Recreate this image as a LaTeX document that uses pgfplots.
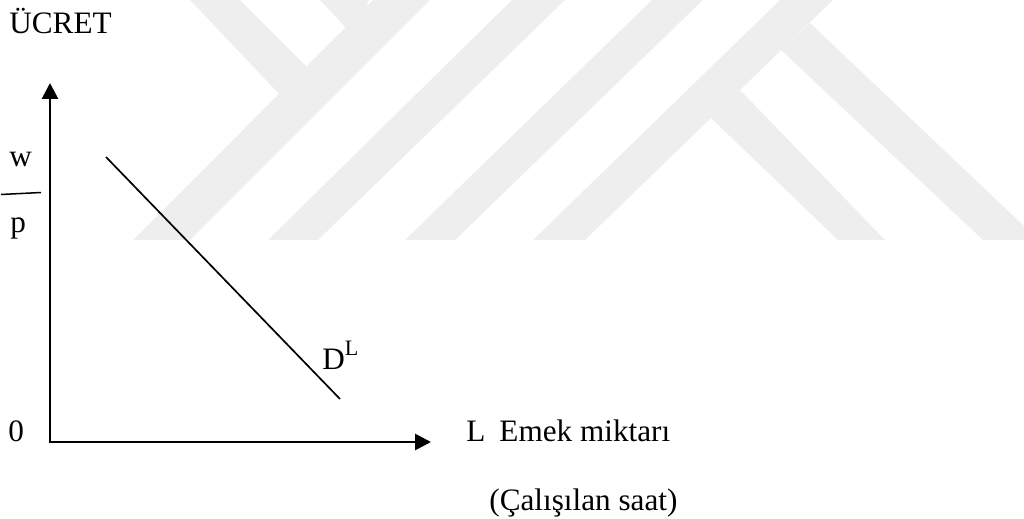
\documentclass[border=0pt]{standalone}
\usepackage{fontspec}
\setmainfont{Liberation Serif}
\usepackage{pgfplots}
\pgfplotsset{compat=1.18}
\usetikzlibrary{arrows.meta}
\definecolor{wm}{RGB}{238,238,238}

\begin{document}
\begin{tikzpicture}
% one unit = one pixel of the 1024x519 reference, y running downwards
\begin{axis}[width=512pt,height=259.5pt,scale only axis,
  xmin=0,xmax=1024,ymin=0,ymax=519,y dir=reverse,
  hide axis,clip=false]
\path (axis cs:0,0) -- (axis cs:1024,519);
% faint watermark bands
\fill[wm] (axis cs:133,240) -- (axis cs:190,240) -- (axis cs:430,0) -- (axis cs:373,0) -- cycle;
\fill[wm] (axis cs:190,0) -- (axis cs:240,0) -- (axis cs:308,68) -- (axis cs:282,97) -- cycle;
\fill[wm] (axis cs:320,0) -- (axis cs:369,0) -- (axis cs:360,22) -- (axis cs:348,30) -- cycle;
\fill[wm] (axis cs:268,240) -- (axis cs:318,240) -- (axis cs:565,0) -- (axis cs:512,0) -- cycle;
\fill[wm] (axis cs:405,240) -- (axis cs:455,240) -- (axis cs:703,0) -- (axis cs:652,0) -- cycle;
\fill[wm] (axis cs:533,240) -- (axis cs:585,240) -- (axis cs:833,0) -- (axis cs:780,0) -- cycle;
\fill[wm] (axis cs:711,118) -- (axis cs:740,90) -- (axis cs:885,240) -- (axis cs:838,240) -- cycle;
\fill[wm] (axis cs:781,50) -- (axis cs:810,23) -- (axis cs:1024,226) -- (axis cs:1024,240) -- (axis cs:983,240) -- cycle;
% axes
\draw[line width=1.4pt,line join=miter,
  {Triangle[length=8pt,width=8pt]}-{Triangle[length=8pt,width=8pt]}]
  (axis cs:50,83) -- (axis cs:50,442) -- (axis cs:431,442);
% labour demand
\addplot[black,line width=0.85pt] coordinates {(106,157) (340,399)};
% labels
\begin{scope}[every node/.style={inner sep=0pt,font=\fontsize{15.6}{18}\selectfont}]
\node[anchor=base west] at (axis cs:9,34) {ÜCRET};
\node[anchor=base west] at (axis cs:9,167) {w};
\node[anchor=base west] at (axis cs:10,233) {p};
\node[anchor=base west] at (axis cs:8,441) {0};
\node[anchor=base west] at (axis cs:322,369) {D\raisebox{7pt}{\fontsize{11}{12}\selectfont L}};
\node[anchor=base west] at (axis cs:466,441) {L\hspace{0.45em}Emek miktarı};
\node[anchor=base west] at (axis cs:489,510) {(Çalışılan saat)};
\end{scope}
\draw[line width=0.75pt] (axis cs:1,194.5) -- (axis cs:41,192.5);
\end{axis}
\end{tikzpicture}
\end{document}
